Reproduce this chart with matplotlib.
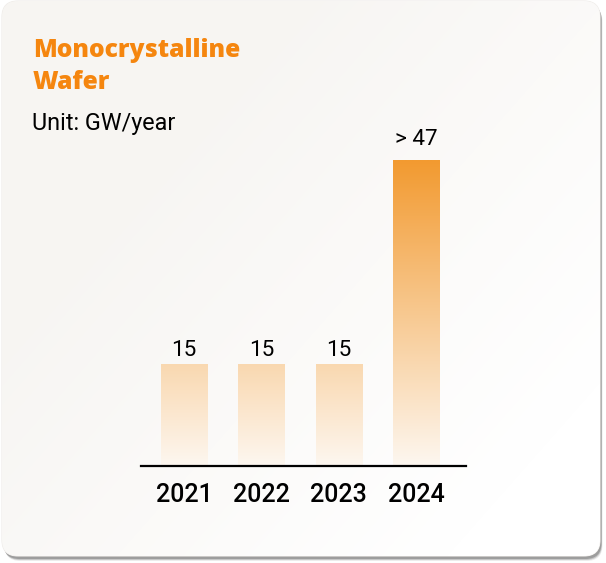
import numpy as np
import matplotlib
matplotlib.use("Agg")
import matplotlib.pyplot as plt
from matplotlib.patches import FancyBboxPatch
from matplotlib.colors import to_rgb

# ---- data ----
years = ["2021", "2022", "2023", "2024"]
values = [15, 15, 15, 45]
value_labels = ["15", "15", "15", "> 47"]
title_lines = ["Monocrystalline", "Wafer"]
unit_text = "Unit: GW/year"

W, H = 606, 563
fig = plt.figure(figsize=(W / 100, H / 100), dpi=100)
fig.patch.set_facecolor("white")

# ---- background card ----
bg = fig.add_axes([0, 0, 1, 1])
bg.set_xlim(0, W)
bg.set_ylim(H, 0)
bg.axis("off")

cx0, cy0, cx1, cy1 = 2, 1, 600, 556
rad = 16
# shadow
for off, a, g in [(5, 0.15, 0.5), (4, 0.35, 0.5), (3, 0.7, 0.55)]:
    sh = FancyBboxPatch((cx0 + off * 0.5, cy0 + off), (cx1 - cx0), (cy1 - cy0),
                        boxstyle=f"round,pad=0,rounding_size={rad}",
                        fc=(g, g, g), ec="none", alpha=a, zorder=1)
    bg.add_patch(sh)
card = FancyBboxPatch((cx0, cy0), cx1 - cx0, cy1 - cy0,
                      boxstyle=f"round,pad=0,rounding_size={rad}",
                      fc="#f8f6f3", ec="#eeebe8", lw=0.8, zorder=2)
bg.add_patch(card)
# diagonal gradient
yy, xx = np.mgrid[0:H, 0:W]
t = np.clip((xx / W * 0.55 + yy / H * 0.45 - 0.25) / 0.6, 0, 1)
c0 = np.array([247, 245, 242]) / 255
c1 = np.array([255, 255, 255]) / 255
img = c0[None, None, :] * (1 - t[..., None]) + c1[None, None, :] * t[..., None]
im = bg.imshow(img, extent=[0, W, H, 0], zorder=3, interpolation="bilinear")
im.set_clip_path(card)

# ---- texts ----
tc = "#f5860f"
fig.text(33 / W, 1 - 57 / H, title_lines[0], fontsize=17.7, fontweight=800,
         family="Open Sans", color=tc, va="baseline", ha="left")
fig.text(33 / W, 1 - 89 / H, title_lines[1], fontsize=17.7, fontweight=800,
         family="Open Sans", color=tc, va="baseline", ha="left")
fig.text(32 / W, 1 - 130 / H, unit_text, fontsize=16.8, family="Roboto",
         color="black", va="baseline", ha="left")

# ---- main axes ----
ax_l, ax_r, ax_t, ax_b = 141, 466, 100, 466
ax = fig.add_axes([ax_l / W, 1 - ax_b / H, (ax_r - ax_l) / W, (ax_b - ax_t) / H])
ax.patch.set_alpha(0)
x = np.arange(len(years))
ymax = (ax_b - ax_t) / 6.8

top_c = np.array(to_rgb("#f29a30"))
bot_c = np.array(to_rgb("#fdf7f0"))
vmax = 45.0
bw = 0.595
for xi, v in zip(x, values):
    n = 256
    fr = np.linspace(0, v / vmax, n)[:, None]
    col = bot_c * (1 - fr) + top_c * fr
    col = col[:, None, :]
    ax.imshow(col, extent=[xi - bw / 2, xi + bw / 2, 0, v], origin="lower",
              aspect="auto", interpolation="bilinear", zorder=2)
ax.set_xlim(-0.555, 3.645)
ax.set_ylim(0, ymax)

offs = [8, 8, 8, 15]
for xi, v, lab, o in zip(x, values, value_labels, offs):
    ax.annotate(lab, (xi, v), xytext=(0, o * 0.72), textcoords="offset points",
                ha="center", va="baseline", fontsize=16.2, family="Roboto",
                color="black")

ax.set_xticks(x, labels=years)
ax.tick_params(axis="x", length=0, pad=12, labelsize=18, labelcolor="black")
for lbl in ax.get_xticklabels():
    lbl.set_family("Roboto")
    lbl.set_fontweight("medium")
ax.set_yticks([])
for s in ["top", "right", "left"]:
    ax.spines[s].set_visible(False)
ax.spines["bottom"].set_linewidth(1.6)
ax.spines["bottom"].set_color("black")

fig.savefig("out.png", dpi=100, facecolor="white")
